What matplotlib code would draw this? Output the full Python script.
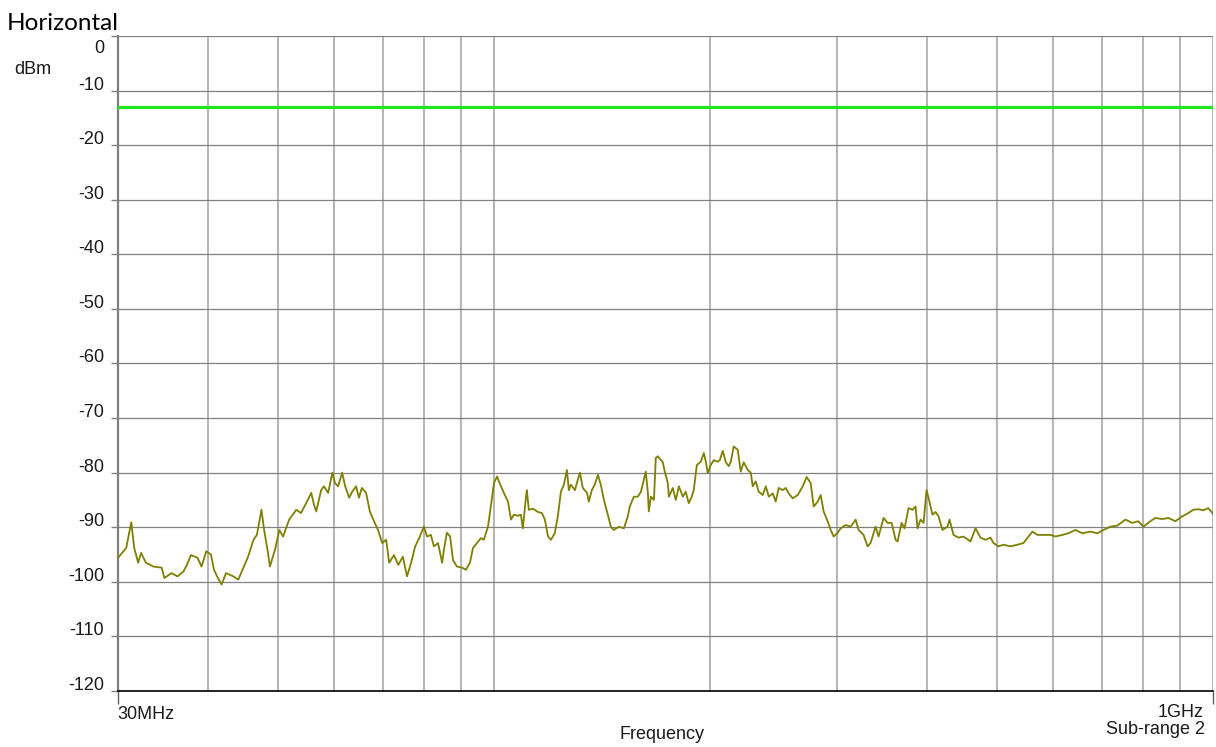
import matplotlib
matplotlib.use("Agg")
import matplotlib.pyplot as plt
from matplotlib.ticker import NullFormatter
from matplotlib.transforms import ScaledTranslation

# horizontal polarisation scan, sub-range 2 (frequency in MHz, level in dBm)
freq_mhz = [
    30.0, 30.8, 31.3, 31.6, 32.0, 32.3, 32.8, 33.6, 34.5, 34.8, 35.6, 36.3, 37.0, 37.4,
    37.9, 38.7, 39.2, 39.8, 40.4, 40.8, 41.2, 41.8, 42.4, 43.4, 44.1, 44.8, 45.5, 46.3,
    46.8, 47.5, 47.9, 48.5, 48.8, 49.6, 50.3, 50.9, 51.9, 53.1, 53.9, 55.1, 55.7, 56.2,
    56.6, 57.5, 58.0, 58.8, 59.6, 60.1, 60.7, 61.5, 62.1, 62.9, 63.5, 64.3, 64.9, 65.5,
    66.4, 67.2, 68.1, 69.0, 69.9, 70.8, 71.5, 72.6, 73.6, 74.7, 75.7, 76.7, 77.7, 78.7,
    79.9, 80.7, 81.7, 82.5, 83.6, 84.7, 85.2, 86.0, 86.9, 87.7, 88.8, 90.3, 91.4, 92.6,
    93.5, 94.7, 95.9, 96.8, 98.1, 99.0, 100.0, 101.0, 101.9, 103.2, 104.6, 105.6, 106.6,
    108.0, 109.0, 109.7, 110.8, 111.1, 111.8, 113.3, 115.1, 116.6, 117.7, 118.9, 120.0,
    121.5, 122.7, 123.9, 125.1, 126.3, 127.1, 127.9, 129.6, 130.8, 131.7, 132.9, 134.7,
    135.5, 136.8, 138.1, 139.5, 140.8, 142.2, 143.6, 145.4, 146.8, 149.2, 151.6, 153.5,
    154.5, 156.5, 158.5, 160.1, 161.6, 162.6, 163.7, 164.2, 165.3, 166.9, 167.9, 169.0,
    171.7, 172.8, 174.5, 175.1, 177.3, 179.0, 180.8, 183.1, 184.8, 186.6, 188.4, 189.6,
    191.5, 193.9, 195.8, 197.1, 198.3, 200.2, 202.2, 204.8, 206.1, 208.1, 210.1, 212.1,
    213.5, 215.5, 218.3, 220.4, 222.5, 225.4, 227.6, 229.0, 231.2, 233.5, 236.5, 238.8,
    241.1, 244.2, 246.5, 248.9, 252.1, 254.5, 257.0, 260.3, 264.5, 268.8, 272.2, 275.7,
    278.4, 282.0, 284.7, 287.4, 291.1, 294.0, 296.8, 300.6, 303.5, 308.4, 313.4, 318.4,
    321.5, 326.6, 330.8, 334.0, 339.4, 342.7, 348.2, 352.7, 357.3, 361.9, 364.2, 368.9,
    372.4, 377.2, 382.1, 385.8, 388.2, 392.0, 395.8, 399.6, 402.1, 407.3, 411.2, 415.2,
    420.5, 427.3, 430.1, 435.6, 442.6, 449.8, 460.0, 467.4, 474.9, 482.6, 490.4, 495.1,
    503.1, 511.2, 522.8, 534.6, 545.0, 553.8, 560.9, 570.0, 581.0, 594.2, 603.8, 617.4,
    629.4, 643.7, 658.2, 675.3, 690.6, 704.0, 719.9, 736.2, 755.3, 772.4, 787.4, 800.1,
    818.2, 831.4, 850.2, 866.7, 886.3, 906.4, 924.0, 938.9, 954.1, 969.5, 985.1, 1000.0,
]
level_dbm = [
    -95.6, -93.8, -89.1, -93.8, -96.5, -94.7, -96.5, -97.2, -97.4, -99.3, -98.4, -99.0, -98.1, -96.9,
    -95.1, -95.6, -97.2, -94.4, -95.0, -97.8, -99.0, -100.5, -98.4, -99.0, -99.6, -97.5, -95.4, -92.3,
    -91.4, -86.8, -90.5, -94.7, -97.2, -94.1, -90.5, -91.7, -88.6, -86.8, -87.4, -85.0, -83.7, -85.9,
    -87.1, -83.2, -82.5, -83.7, -80.0, -81.9, -82.5, -80.0, -82.5, -84.6, -83.5, -82.5, -84.6, -82.8,
    -83.7, -87.1, -88.9, -90.5, -92.9, -92.3, -96.5, -95.1, -96.9, -95.4, -99.0, -96.5, -93.5, -92.0,
    -89.9, -91.7, -91.4, -93.5, -92.9, -96.5, -94.1, -91.0, -91.7, -96.0, -97.2, -97.4, -97.8, -96.5,
    -93.8, -92.9, -92.0, -92.3, -89.9, -86.2, -81.9, -80.7, -82.0, -83.7, -85.3, -88.6, -87.7,
    -87.9, -87.7, -90.2, -84.4, -83.2, -86.8, -86.6, -87.2, -87.4, -88.6, -91.7, -92.3,
    -91.1, -88.0, -83.5, -82.2, -79.5, -83.2, -82.2, -83.2, -81.3, -80.0, -82.8, -83.7,
    -85.3, -83.2, -82.2, -80.4, -82.2, -85.0, -87.1, -89.9, -90.5, -89.9, -90.2, -88.0,
    -86.2, -84.4, -84.4, -83.5, -81.3, -79.8, -83.7, -87.1, -84.4, -85.0, -77.3, -77.0,
    -78.1, -79.8, -81.9, -84.4, -82.8, -85.0, -82.5, -84.4, -83.5, -85.6, -84.4, -83.2,
    -78.6, -78.0, -76.4, -78.0, -80.1, -78.6, -77.7, -78.0, -77.7, -76.0, -78.1, -78.8,
    -78.0, -75.2, -75.8, -79.8, -78.1, -79.5, -80.0, -82.5, -81.6, -83.5, -84.1, -82.5,
    -84.4, -83.8, -85.3, -82.8, -83.2, -82.8, -83.8, -84.7, -84.1, -82.5, -80.8, -81.9,
    -86.2, -85.3, -84.1, -87.1, -88.9, -90.5, -91.7, -91.0, -90.2, -89.6, -89.9, -88.6,
    -90.5, -91.4, -93.5, -92.9, -89.9, -91.7, -88.3, -89.2, -89.2, -92.3, -92.6, -89.2,
    -90.2, -86.5, -86.8, -86.2, -90.2, -88.6, -89.2, -83.2, -84.6, -87.7, -87.2, -88.0,
    -90.5, -89.9, -88.6, -91.4, -91.9, -91.7, -92.6, -90.2, -91.9, -92.3, -91.9, -92.9,
    -93.5, -93.2, -93.5, -93.2, -92.9, -91.7, -90.8, -91.4, -91.4, -91.4, -91.7, -91.4,
    -91.1, -90.5, -91.1, -90.8, -91.1, -90.5, -89.9, -89.7, -88.6, -89.2, -88.9, -89.9,
    -88.9, -88.3, -88.5, -88.3, -88.9, -88.0, -87.4, -86.8, -86.7, -86.9, -86.5, -87.5,
]
limit_dbm = -13
y_ticks = [0, -10, -20, -30, -40, -50, -60, -70, -80, -90, -100, -110, -120]
x_grid = [40, 50, 60, 70, 80, 90, 100, 200, 300, 400, 500, 600, 700, 800, 900]
x_ends = [30, 1000]

plt.rcParams["font.family"] = ["Liberation Sans", "DejaVu Sans"]

fig = plt.figure(figsize=(12.16, 7.47), dpi=100)
ax = fig.add_axes([0.09704, 0.07497, 0.90049, 0.87684])
ax.set_xscale("log")

ax.plot(freq_mhz, level_dbm, color="#7f7f00", lw=1.3, zorder=3)
ax.axhline(limit_dbm, color="#22e622", lw=2.3, zorder=3)

ax.set_xlim(x_ends[0], x_ends[1])
ax.set_ylim(y_ticks[-1], y_ticks[0])
ax.set_xticks(x_ends)
ax.set_xticks(x_grid, minor=True)
ax.xaxis.set_major_formatter(NullFormatter())
ax.xaxis.set_minor_formatter(NullFormatter())
ax.set_yticks(y_ticks)
ax.tick_params(axis="x", which="major", length=9, color="#606060", width=1.0)
ax.tick_params(axis="x", which="minor", length=0)
ax.tick_params(axis="y", length=5, color="#808080", width=1.0, labelleft=False)

ax.xaxis.grid(True, which="both", color="#a0a0a0", lw=1.1)
ax.yaxis.grid(True, color="#808080", lw=0.9)
ax.set_axisbelow(True)

for side in ("top", "right"):
    ax.spines[side].set_visible(False)
ax.spines["left"].set_color("#808080")
ax.spines["left"].set_linewidth(1.6)
ax.spines["bottom"].set_color("black")
ax.spines["bottom"].set_linewidth(1.2)

# y labels sit a little above their grid lines, the top one below
ytr = ax.get_yaxis_transform()
for v in y_ticks:
    dy = -0.125 if v == 0 else 0.055
    off = ScaledTranslation(-0.14, dy, fig.dpi_scale_trans)
    ax.text(0, v, str(v), transform=ytr + off, ha="right", va="center",
            fontsize=13, color="#1a1a1a")

xtr = ax.get_xaxis_transform()
ax.text(x_ends[0], 0, "30MHz", ha="left", va="center", fontsize=13, color="#1a1a1a",
        transform=xtr + ScaledTranslation(-0.01, -0.235, fig.dpi_scale_trans))
ax.text(x_ends[1], 0, "1GHz", ha="right", va="center", fontsize=13, color="#1a1a1a",
        transform=xtr + ScaledTranslation(-0.09, -0.22, fig.dpi_scale_trans))
ax.text(x_ends[1], 0, "Sub-range 2", ha="right", va="center", fontsize=13,
        color="#1a1a1a",
        transform=xtr + ScaledTranslation(-0.08, -0.385, fig.dpi_scale_trans))
ax.text(0.5, 0, "Frequency", ha="center", va="center", fontsize=13, color="#1a1a1a",
        transform=ax.transAxes + ScaledTranslation(-0.03, -0.44, fig.dpi_scale_trans))

fig.text(33 / 1216, 1 - 69 / 747, "dBm", ha="center", va="center", fontsize=13,
         color="#1a1a1a")
fig.text(7 / 1216, 1 - 30 / 747, "Horizontal", ha="left", va="baseline",
         fontsize=17.5, family=["Lato", "DejaVu Sans"], color="black")

fig.savefig("out.png", dpi=100)
